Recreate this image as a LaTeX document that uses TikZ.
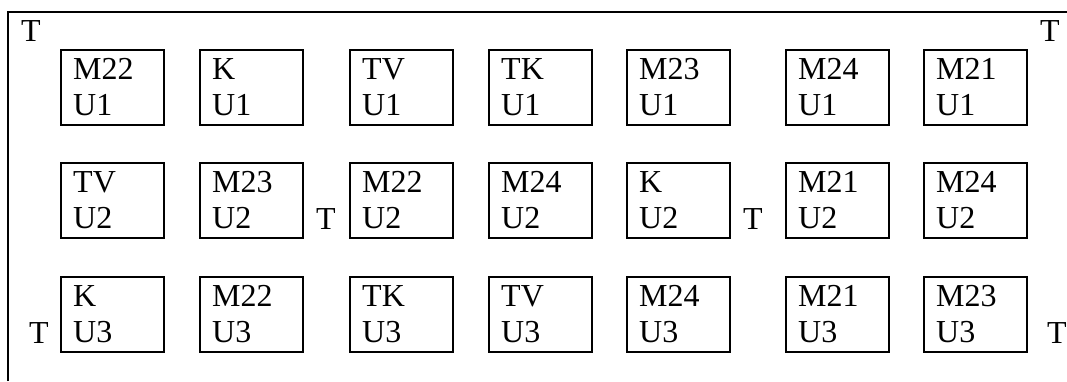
\documentclass[tikz,border=0pt]{standalone}
\usepackage{fontspec}
\setmainfont{Liberation Serif}
\usetikzlibrary{calc}
\tikzset{
  cellbox/.style={draw, line width=2.4pt, minimum width=103pt, minimum height=75pt, anchor=north west, inner sep=0pt},
  txt/.style={anchor=base west, inner sep=0pt, font=\fontsize{32}{36}\selectfont},
  frame/.style={line width=2.4pt}
}
\newcommand{\mycell}[5]{%
  \node[cellbox] (#1) at (#2,#3) {};
  \node[txt] (#1a) at ($(#1.north west)+(13,30)$) {#4};
  \node[txt] (#1b) at ($(#1.north west)+(13,66)$) {#5};
}
\begin{document}
\begin{tikzpicture}[x=1pt,y=-1pt]
\useasboundingbox (0,0) rectangle (1067,381);
\draw[frame] (8,381) -- (8,12) -- (1067,12);
% row 1
\mycell{a1}{60}{49}{M22}{U1}
\mycell{a2}{199}{49}{K}{U1}
\mycell{a3}{349}{49}{TV}{U1}
\mycell{a4}{488}{49}{TK}{U1}
\mycell{a5}{626}{49}{M23}{U1}
\mycell{a6}{785}{49}{M24}{U1}
\mycell{a7}{923}{49}{M21}{U1}
% row 2
\mycell{b1}{60}{162}{TV}{U2}
\mycell{b2}{199}{162}{M23}{U2}
\mycell{b3}{349}{162}{M22}{U2}
\mycell{b4}{488}{162}{M24}{U2}
\mycell{b5}{626}{162}{K}{U2}
\mycell{b6}{785}{162}{M21}{U2}
\mycell{b7}{923}{162}{M24}{U2}
% row 3
\mycell{c1}{60}{276}{K}{U3}
\mycell{c2}{199}{276}{M22}{U3}
\mycell{c3}{349}{276}{TK}{U3}
\mycell{c4}{488}{276}{TV}{U3}
\mycell{c5}{626}{276}{M24}{U3}
\mycell{c6}{785}{276}{M21}{U3}
\mycell{c7}{923}{276}{M23}{U3}
% T labels
\node[txt] (t1) at (21,41) {T};
\node[txt] (t2) at (1040,41) {T};
\node[txt] (t3) at (316,229) {T};
\node[txt] (t4) at (743,229) {T};
\node[txt] (t5) at (29,343) {T};
\node[txt] (t6) at (1047,343) {T};
\end{tikzpicture}
\end{document}
